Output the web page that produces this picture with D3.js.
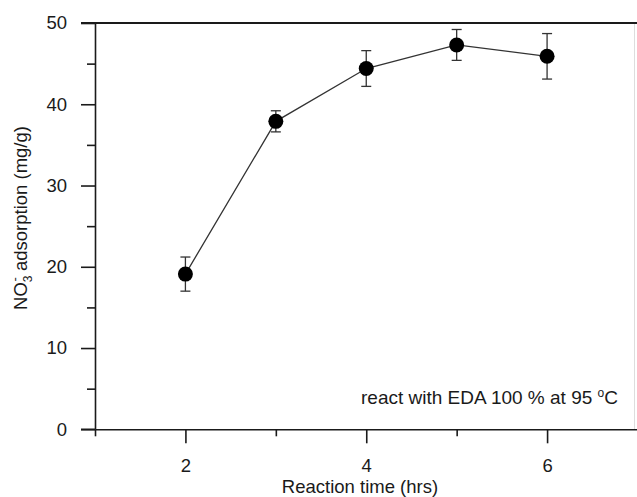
<!DOCTYPE html>
<html>
<head>
<meta charset="utf-8">
<script src="https://cdn.jsdelivr.net/npm/d3@7"></script>
<style>
  body { margin: 0; background: #fff; }
  svg { display: block; font-family: "Liberation Sans", Arial, sans-serif; }
</style>
</head>
<body>
<div id="chart"></div>
<script>
// values
var time = [2, 3, 4, 5, 6];
var adsorption = [19.1, 37.9, 44.4, 47.3, 45.9];
var errors = [2.1, 1.3, 2.2, 1.9, 2.8];

var xMajor = [2, 4, 6];
var xMinor = [1, 3, 5, 7];
var yMajor = [0, 10, 20, 30, 40, 50];
var yMinor = [5, 15, 25, 35, 45];

var width = 637;
var height = 497;
var plotLeft = 95, plotTop = 23, plotRight = 637.5, plotBottom = 429.3;

var svg = d3.select("#chart").append("svg")
    .attr("width", width)
    .attr("height", height);

var x = d3.scaleLinear().domain([1, 7]).range([plotLeft, plotRight]);
var y = d3.scaleLinear().domain([0, 50]).range([plotBottom, plotTop]);

function styleAxis(g) {
    g.selectAll("line, path").attr("stroke", "#1a1a1a").attr("stroke-width", 1.6);
    g.selectAll("text")
        .attr("fill", "#1a1a1a")
        .attr("font-size", 18.5)
        .attr("font-family", "'Liberation Sans', Arial, sans-serif");
}

// faint right frame
svg.append("line")
    .attr("x1", 634.5).attr("x2", 634.5)
    .attr("y1", plotTop).attr("y2", plotBottom)
    .attr("stroke", "#ddd").attr("stroke-width", 1);

// top frame line (thicker)
svg.append("line")
    .attr("x1", plotLeft - 14).attr("x2", width)
    .attr("y1", plotTop).attr("y2", plotTop)
    .attr("stroke", "#1a1a1a").attr("stroke-width", 2.2);

// y axis: major ticks with labels, minor ticks without
svg.append("g")
    .attr("transform", "translate(" + plotLeft + ",0)")
    .call(d3.axisLeft(y).tickValues(yMajor).tickFormat(d3.format("d"))
        .tickSize(14).tickPadding(14).tickSizeOuter(0))
    .call(styleAxis);

svg.append("g")
    .attr("transform", "translate(" + plotLeft + ",0)")
    .call(d3.axisLeft(y).tickValues(yMinor).tickSize(8).tickFormat("").tickSizeOuter(0))
    .call(function (g) { g.select(".domain").remove(); styleAxis(g); });

// x axis
svg.append("g")
    .attr("transform", "translate(0," + plotBottom + ")")
    .call(d3.axisBottom(x).tickValues(xMajor).tickFormat(d3.format("d"))
        .tickSize(14).tickPadding(16).tickSizeOuter(0))
    .call(styleAxis);

svg.append("g")
    .attr("transform", "translate(0," + plotBottom + ")")
    .call(d3.axisBottom(x).tickValues(xMinor).tickSize(7).tickFormat("").tickSizeOuter(0))
    .call(function (g) { g.select(".domain").remove(); styleAxis(g); });

// extend x axis line to the left to meet the 0 tick
svg.append("line")
    .attr("x1", plotLeft - 14).attr("x2", plotLeft)
    .attr("y1", plotBottom).attr("y2", plotBottom)
    .attr("stroke", "#1a1a1a").attr("stroke-width", 1.6);

var pts = time.map(function (t, i) { return { t: t, v: adsorption[i], e: errors[i] }; });

// error bars
var eb = svg.append("g").attr("stroke", "#333").attr("stroke-width", 1.3);
pts.forEach(function (d) {
    eb.append("line")
        .attr("x1", x(d.t)).attr("x2", x(d.t))
        .attr("y1", y(d.v + d.e)).attr("y2", y(d.v - d.e));
    eb.append("line")
        .attr("x1", x(d.t) - 5).attr("x2", x(d.t) + 5)
        .attr("y1", y(d.v + d.e)).attr("y2", y(d.v + d.e));
    eb.append("line")
        .attr("x1", x(d.t) - 5).attr("x2", x(d.t) + 5)
        .attr("y1", y(d.v - d.e)).attr("y2", y(d.v - d.e));
});

// connecting line
var line = d3.line()
    .x(function (d) { return x(d.t); })
    .y(function (d) { return y(d.v); });

svg.append("path")
    .datum(pts)
    .attr("d", line)
    .attr("fill", "none")
    .attr("stroke", "#333")
    .attr("stroke-width", 1.3);

svg.append("g").selectAll("circle")
    .data(pts)
    .enter().append("circle")
    .attr("cx", function (d) { return x(d.t); })
    .attr("cy", function (d) { return y(d.v); })
    .attr("r", 7.5)
    .attr("fill", "#000");

// annotation
var note = svg.append("text")
    .attr("x", 618).attr("y", 404)
    .attr("text-anchor", "end")
    .attr("font-size", 19)
    .attr("fill", "#1a1a1a");
note.append("tspan").text("react with EDA 100 % at 95 ");
note.append("tspan").attr("font-size", 12).attr("dy", -7).text("o");
note.append("tspan").attr("dy", 7).text("C");

// axis titles
svg.append("text")
    .attr("x", 360).attr("y", 493)
    .attr("text-anchor", "middle")
    .attr("font-size", 18.5)
    .attr("fill", "#1a1a1a")
    .text("Reaction time (hrs)");

var yl = svg.append("text")
    .attr("transform", "translate(27,218) rotate(-90)")
    .attr("text-anchor", "middle")
    .attr("font-size", 18.5)
    .attr("fill", "#1a1a1a");
yl.append("tspan").text("NO");
yl.append("tspan").attr("font-size", 12).attr("dy", 5).text("3");
yl.append("tspan").attr("font-size", 13).attr("dx", -6).attr("dy", -13).text("-");
yl.append("tspan").attr("dx", 1).attr("dy", 8).text(" adsorption (mg/g)");
</script>
</body>
</html>
